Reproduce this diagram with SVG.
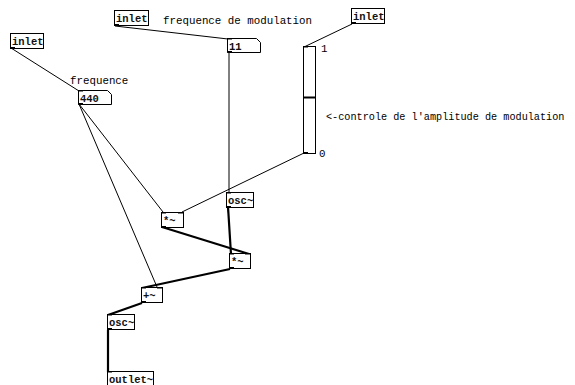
<svg xmlns="http://www.w3.org/2000/svg" width="575" height="385" viewBox="0 0 575 385">
  <style>
    .box { fill: #fff; stroke: #000; stroke-width: 1; }
    .io { fill: #000; }
    .t { font-family: "Liberation Mono", "Courier New", monospace; font-size: 10.5px; font-weight: bold; fill: #111; }
    .c { font-family: "Liberation Mono", "Courier New", monospace; font-size: 10.8px; fill: #000; }
    .ctl { stroke: #000; stroke-width: 1; fill: none; }
    .sig { stroke: #000; stroke-width: 2.2; fill: none; }
  </style>
  <rect width="575" height="385" fill="#fff"/>

  <!-- patch cords -->
  <g id="connectors">
    <line class="ctl" x1="11" y1="48" x2="79" y2="91"/>
    <line class="ctl" x1="115" y1="26" x2="228" y2="39"/>
    <line class="ctl" x1="352" y1="24" x2="304" y2="47"/>
    <line class="ctl" x1="229" y1="52" x2="229" y2="192"/>
    <line class="ctl" x1="79" y1="104" x2="163" y2="212"/>
    <line class="ctl" x1="79" y1="104" x2="157" y2="287"/>
    <line class="ctl" x1="304" y1="153" x2="182" y2="212"/>
    <line class="sig" x1="162" y1="227" x2="249" y2="254"/>
    <line class="sig" x1="228" y1="207" x2="231" y2="254"/>
    <line class="sig" x1="230" y1="269" x2="142" y2="288"/>
    <line class="sig" x1="142" y1="303" x2="108" y2="315"/>
    <line class="sig" x1="108" y1="330" x2="108" y2="372"/>
  </g>

  <!-- comments -->
  <g id="comments">
    <text class="c" x="70" y="84">frequence</text>
    <text class="c" x="163" y="24">frequence de modulation</text>
    <text class="c" x="326" y="120" style="font-size:10.2px">&lt;-controle de l'amplitude de modulation</text>
  </g>

  <g id="inlet-freq">
    <rect class="box" x="10.5" y="33.5" width="33" height="15"/>
    <rect class="io" x="10" y="47" width="5" height="1.5"/>
    <text class="t" x="12" y="44.5">inlet</text>
  </g>

  <g id="inlet-modfreq">
    <rect class="box" x="114.5" y="10.5" width="34" height="15"/>
    <rect class="io" x="114" y="24" width="5" height="1.5"/>
    <text class="t" x="116" y="21.5">inlet</text>
  </g>

  <g id="inlet-amp">
    <rect class="box" x="351.5" y="8.5" width="33" height="15"/>
    <rect class="io" x="351" y="22" width="5" height="1.5"/>
    <text class="t" x="353" y="19.5">inlet</text>
  </g>

  <g id="num-freq">
    <path class="box" d="M78.5,90.5 H107.5 L111.5,94.5 V104.5 H78.5 Z"/>
    <rect class="io" x="78" y="90" width="5" height="1.5"/>
    <rect class="io" x="78" y="103" width="5" height="1.5"/>
    <text class="t" x="80" y="101.5">440</text>
  </g>

  <g id="num-modfreq">
    <path class="box" d="M227.5,38.5 H256.5 L260.5,42.5 V52.5 H227.5 Z"/>
    <rect class="io" x="227" y="38" width="5" height="1.5"/>
    <rect class="io" x="227" y="51" width="5" height="1.5"/>
    <text class="t" x="229" y="49.5">11</text>
  </g>

  <g id="slider-amp">
    <rect class="box" x="303.5" y="46.5" width="12" height="107"/>
    <rect class="io" x="303" y="46" width="5" height="1.5"/>
    <rect class="io" x="303" y="152" width="5" height="1.5"/>
    <line x1="304" y1="97.5" x2="315" y2="97.5" stroke="#000" stroke-width="2"/>
    <text class="c" x="321" y="52">1</text>
    <text class="c" x="319" y="157">0</text>
  </g>

  <g id="osc-mod">
    <rect class="box" x="226.5" y="192.5" width="27" height="15"/>
    <rect class="io" x="226" y="192" width="5" height="1.5"/>
    <rect class="io" x="226" y="206" width="5" height="1.5"/>
    <text class="t" x="228" y="203.5">osc~</text>
  </g>

  <g id="mul-amp">
    <rect class="box" x="161.5" y="212.5" width="22" height="15"/>
    <rect class="io" x="161" y="212" width="5" height="1.5"/>
    <rect class="io" x="178" y="212" width="5" height="1.5"/>
    <rect class="io" x="161" y="226" width="5" height="1.5"/>
    <text class="t" x="163" y="223.5">*~</text>
  </g>

  <g id="mul-sig">
    <rect class="box" x="229.5" y="253.5" width="21" height="15"/>
    <rect class="io" x="229" y="253" width="5" height="1.5"/>
    <rect class="io" x="245" y="253" width="5" height="1.5"/>
    <rect class="io" x="229" y="267" width="5" height="1.5"/>
    <text class="t" x="231" y="264.5">*~</text>
  </g>

  <g id="add">
    <rect class="box" x="141.5" y="287.5" width="21" height="15"/>
    <rect class="io" x="141" y="287" width="5" height="1.5"/>
    <rect class="io" x="157" y="287" width="5" height="1.5"/>
    <rect class="io" x="141" y="301" width="5" height="1.5"/>
    <text class="t" x="143" y="298.5">+~</text>
  </g>

  <g id="osc-carrier">
    <rect class="box" x="107.5" y="314.5" width="27" height="15"/>
    <rect class="io" x="107" y="314" width="5" height="1.5"/>
    <rect class="io" x="107" y="328" width="5" height="1.5"/>
    <text class="t" x="109" y="325.5">osc~</text>
  </g>

  <g id="outlet">
    <rect class="box" x="107.5" y="371.5" width="46" height="16"/>
    <rect class="io" x="107" y="371" width="5" height="1.5"/>
    <text class="t" x="109" y="382.5">outlet~</text>
  </g>
</svg>
